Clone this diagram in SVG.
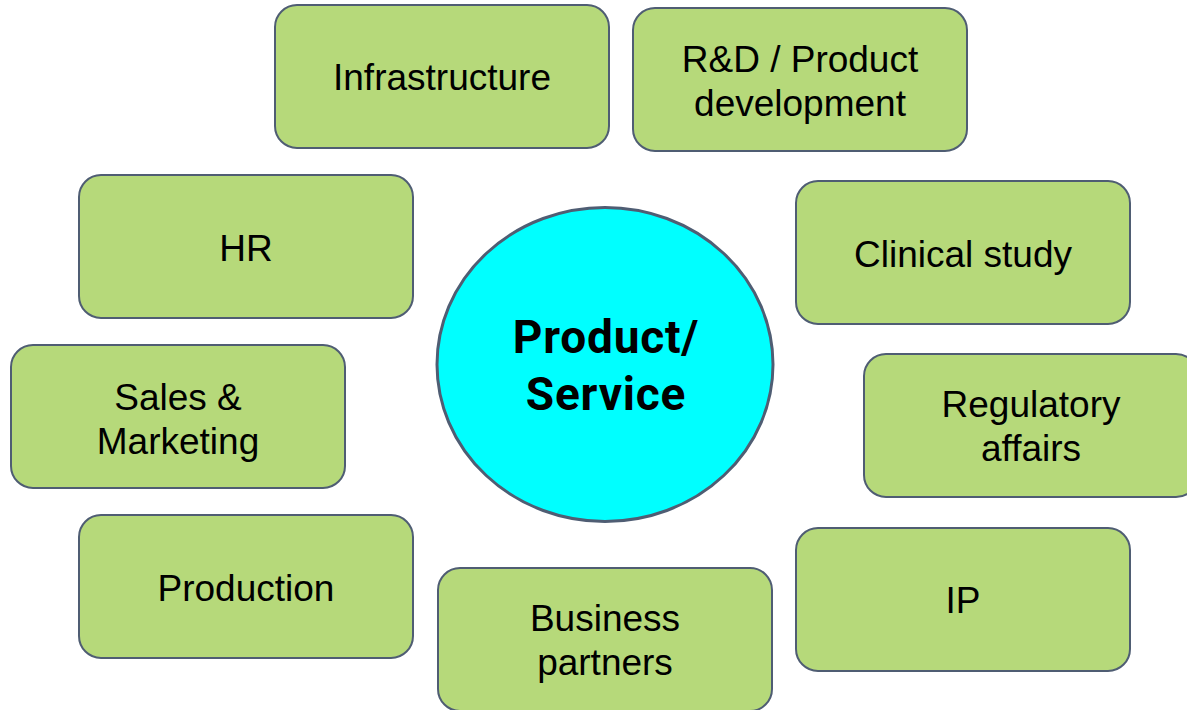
<svg xmlns="http://www.w3.org/2000/svg" width="1187" height="710" viewBox="0 0 1187 710">
<style>
.box{fill:#b6d97a;stroke:#4f5d73;stroke-width:2}
.lbl{font-family:"Liberation Sans",Arial,sans-serif;font-size:37px;fill:#000;text-anchor:middle}
.ctr{fill:#00ffff;stroke:#4f5d73;stroke-width:3}
.ctrl{font-family:Roboto,"Liberation Sans",sans-serif;font-weight:bold;font-size:46px;letter-spacing:0.8px;fill:#000;text-anchor:middle}
</style>
<rect width="1187" height="710" fill="#fff"/>
<g id="connectors"></g>
<g id="infrastructure"><rect class="box" x="275" y="5" width="334" height="143" rx="22"/><text class="lbl" x="442" y="90">Infrastructure</text></g>
<g id="rd"><rect class="box" x="633" y="8" width="334" height="143" rx="22"/><text class="lbl" x="800" y="72">R&amp;D / Product</text><text class="lbl" x="800" y="116">development</text></g>
<g id="hr"><rect class="box" x="79" y="175" width="334" height="143" rx="22"/><text class="lbl" x="246" y="261">HR</text></g>
<g id="clinical"><rect class="box" x="796" y="181" width="334" height="143" rx="22"/><text class="lbl" x="963" y="267">Clinical study</text></g>
<g id="sales"><rect class="box" x="11" y="345" width="334" height="143" rx="22"/><text class="lbl" x="178" y="410">Sales &amp;</text><text class="lbl" x="178" y="454">Marketing</text></g>
<g id="regulatory"><rect class="box" x="864" y="354" width="334" height="143" rx="22"/><text class="lbl" x="1031" y="417">Regulatory</text><text class="lbl" x="1031" y="461">affairs</text></g>
<g id="production"><rect class="box" x="79" y="515" width="334" height="143" rx="22"/><text class="lbl" x="246" y="601">Production</text></g>
<g id="ip"><rect class="box" x="796" y="528" width="334" height="143" rx="22"/><text class="lbl" x="963" y="613">IP</text></g>
<g id="business"><rect class="box" x="438" y="568" width="334" height="143" rx="22"/><text class="lbl" x="605" y="631">Business</text><text class="lbl" x="605" y="675">partners</text></g>
<g id="product"><ellipse class="ctr" cx="605" cy="364.5" rx="168" ry="157"/><text class="ctrl" x="606" y="353">Product/</text><text class="ctrl" x="606" y="410">Service</text></g>
</svg>
